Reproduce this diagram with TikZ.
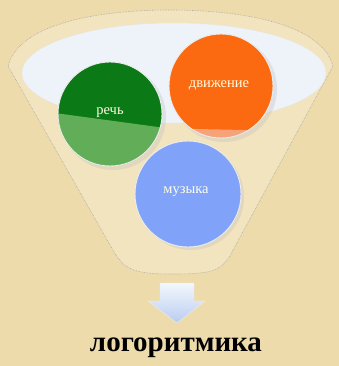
\documentclass[tikz,border=0pt]{standalone}
\usepackage{fontspec}
\setmainfont{Liberation Serif}
\usetikzlibrary{shadows}
\definecolor{bg}{HTML}{EEDBAC}
\definecolor{funnelfill}{HTML}{F2E4BE}
\definecolor{ellfill}{HTML}{EEF3FA}
\definecolor{dgreen}{HTML}{0B7A16}
\definecolor{lgreen}{HTML}{62AE58}
\definecolor{orng}{HTML}{FB6A10}
\definecolor{lorng}{HTML}{F8A27A}
\definecolor{blu}{HTML}{80A2F8}
\definecolor{arrtop}{HTML}{F4F8FE}
\definecolor{arrbot}{HTML}{B8CCF0}
\tikzset{
  ballbase/.style={draw=white!85!gray, line width=0.9pt},
  balltext/.style={text=white!90!yellow, font=\fontsize{14.5}{15}\selectfont},
}
\begin{document}
\begin{tikzpicture}[x=1pt,y=-1pt]
\useasboundingbox (0,0) rectangle (339,366);
\fill[bg] (0,0) rectangle (339,366);
% funnel
\draw[fill=funnelfill, draw=gray!70, densely dotted, line width=0.6pt]
  (8,66) .. controls (20,20) and (110,10) .. (170,10)
  .. controls (230,10) and (320,20) .. (333,66)
  -- (232,252) .. controls (222,272) and (210,274) .. (172,274)
  .. controls (135,274) and (125,270) .. (114,252) -- cycle;
% inner ellipse
\draw[fill=ellfill, draw=white!80!gray, densely dotted, line width=0.6pt] (174,73) ellipse (152 and 50);
% green circle
\coordinate (gc) at (110,114);
\fill[black!25, opacity=0.35] (113,117) circle (53);
\begin{scope}
  \clip (gc) circle (52);
  \fill[dgreen] (gc) circle (52);
  \fill[lgreen] (40,111) -- (180,130) -- (180,180) -- (40,180) -- cycle;
\end{scope}
\node[ballbase, circle, minimum size=104pt, inner sep=0pt] (g) at (gc) {};
\node[balltext] (gl) at (110,113) {речь};
% orange circle
\coordinate (oc) at (221,86);
\fill[black!25, opacity=0.35] (224,89) circle (53);
\begin{scope}
  \clip (oc) circle (52);
  \fill[orng] (oc) circle (52);
  \fill[lorng] (150,128) -- (290,131) -- (290,160) -- (150,160) -- cycle;
\end{scope}
\node[ballbase, circle, minimum size=104pt, inner sep=0pt] (o) at (oc) {};
\node[balltext] (ol) at (219,85) {движение};
% blue circle
\coordinate (bc) at (188,194);
\fill[black!25, opacity=0.35] (191,197) circle (53);
\node[ballbase, circle, fill=blu, minimum size=106pt, inner sep=0pt] (b) at (bc) {};
\node[balltext] (bl) at (186,192) {музыка};
% arrow
\shade[top color=arrtop, bottom color=arrbot, draw=white!85!gray, line width=0.4pt]
  (160,283) -- (194,283) -- (194,301) -- (205,301) -- (177,323) -- (148,301) -- (160,301) -- cycle;
% label
\node[font=\bfseries\fontsize{29}{32}\selectfont, text=black] (t) at (176,348) {логоритмика};
\end{tikzpicture}
\end{document}
